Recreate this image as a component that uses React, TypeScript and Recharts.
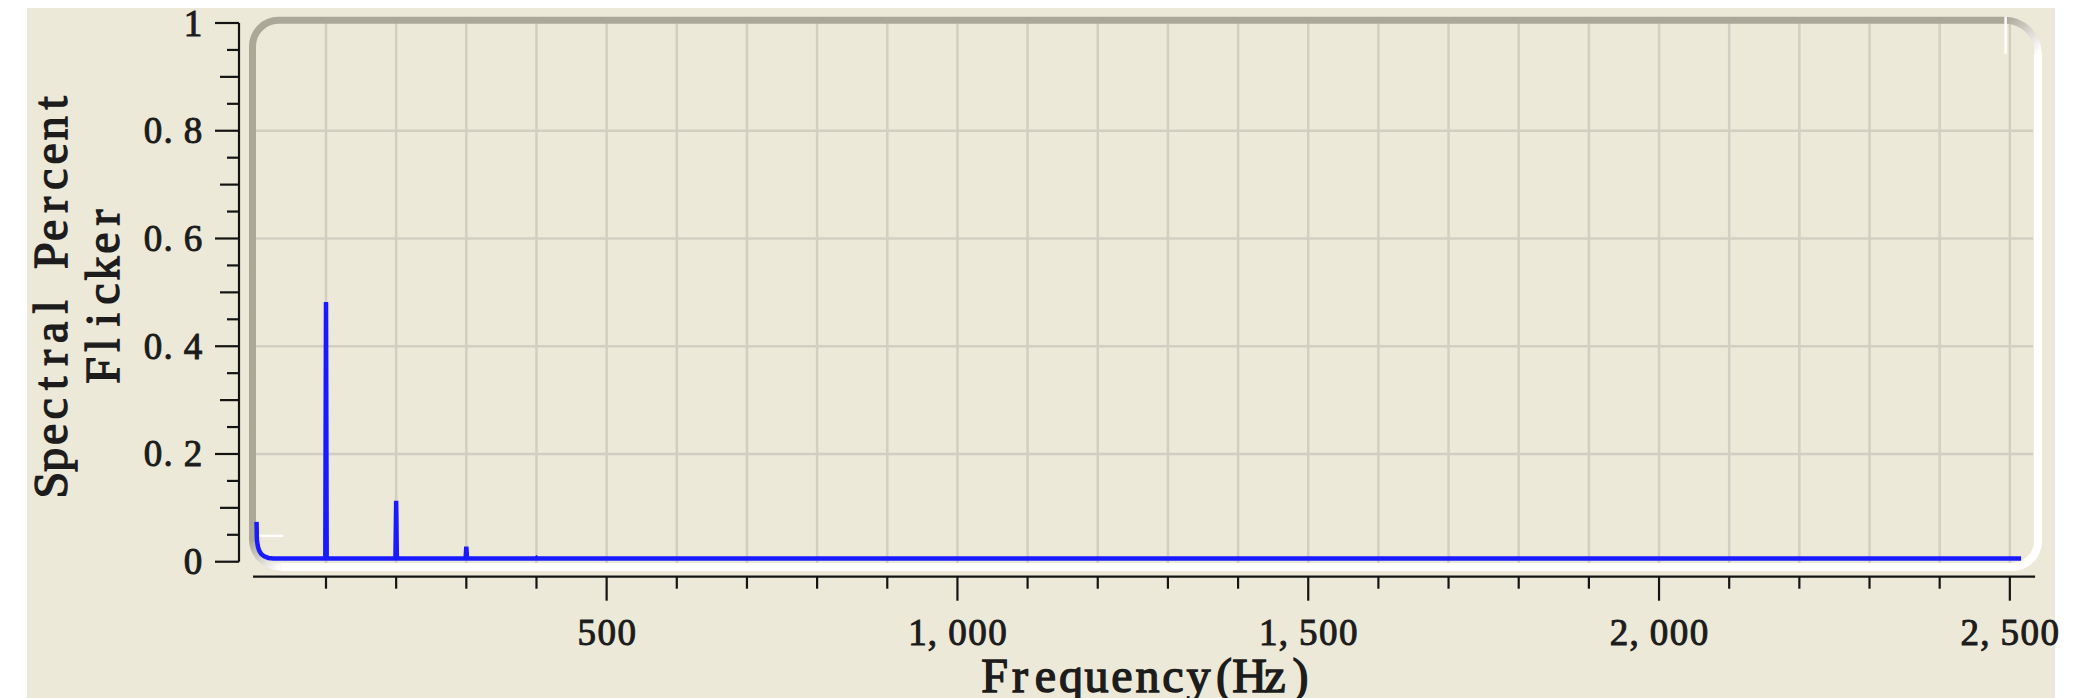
import React from 'react';
import { LineChart, Line, XAxis, YAxis, ReferenceLine, ReferenceArea } from 'recharts';

// ---- data ----
const frequencyHz = [
  1, 1.5, 3, 5, 8, 12, 18, 25, 40, 60, 80, 99, 100, 101, 130, 160, 199, 200, 201, 240, 270, 299, 300, 301,
  350, 399, 400, 401, 450, 500, 600, 700, 800, 900, 1000, 1100, 1200, 1300, 1400, 1500, 1600, 1700, 1800, 1900,
  2000, 2100, 2200, 2300, 2400, 2500, 2516,
];
const spectralPercentFlicker = [
  0.074, 0.04, 0.028, 0.02, 0.014, 0.01, 0.007, 0.006, 0.006, 0.006, 0.006, 0.006, 0.482, 0.006, 0.006, 0.006,
  0.006, 0.113, 0.006, 0.006, 0.006, 0.006, 0.028, 0.006, 0.006, 0.006, 0.007, 0.006, 0.006, 0.006, 0.006,
  0.006, 0.006, 0.006, 0.006, 0.006, 0.006, 0.006, 0.006, 0.006, 0.006, 0.006, 0.006, 0.006, 0.006, 0.006,
  0.006, 0.006, 0.006, 0.006, 0.006,
];

const xTickValues = [
  100, 200, 300, 400, 500, 600, 700, 800, 900, 1000, 1100, 1200, 1300, 1400, 1500, 1600, 1700, 1800, 1900,
  2000, 2100, 2200, 2300, 2400, 2500,
];
const xLabelValues = [500, 1000, 1500, 2000, 2500];
const xLabelTexts = ['500', '1,000', '1,500', '2,000', '2,500'];

const yTickValues = [
  0, 0.05, 0.1, 0.15, 0.2, 0.25, 0.3, 0.35, 0.4, 0.45, 0.5, 0.55, 0.6, 0.65, 0.7, 0.75, 0.8, 0.85, 0.9, 0.95, 1,
];
const yLabelValues = [0, 0.2, 0.4, 0.6, 0.8, 1];
const yLabelTexts = ['0', '0.2', '0.4', '0.6', '0.8', '1'];

const xGridValues = xTickValues;
const yGridValues = [0.2, 0.4, 0.6, 0.8];

const xAxisTitle = 'Frequency(Hz)';
const yAxisTitleLines = ['Spectral Percent', 'Flicker'];

// ---- styling constants ----
const X_MIN = -24;
const X_MAX = 2543;
const Y_MIN = -0.0278;
const Y_MAX = 1;
const SERIF = '"Liberation Serif", "Times New Roman", serif';
const INK = '#1c1c1c';
const GRID = '#d2cfc2';
const SHADOW = '#aca899';
const SERIES = '#1a1aff';

// approximate glyph advance widths (em) of Liberation Serif, used to centre each glyph in a fixed-width cell
const GLYPH_W: Record<string, number> = {
  ',': 0.25, '.': 0.25, ' ': 0.25, F: 0.556, r: 0.333, e: 0.444, q: 0.5, u: 0.5, n: 0.5, c: 0.444, y: 0.5,
  '(': 0.333, ')': 0.333, H: 0.722, z: 0.444, S: 0.556, p: 0.5, t: 0.278, a: 0.444, l: 0.278, P: 0.556,
  i: 0.278, k: 0.5,
};

function cellXs(str: string, cell: number, fontSize: number, anchor: 'start' | 'middle' | 'end'): string {
  const chars = Array.from(str);
  const n = chars.length;
  const start = anchor === 'middle' ? (-n * cell) / 2 : anchor === 'end' ? -n * cell : 0;
  return chars
    .map((ch, i) => {
      const w = (GLYPH_W[ch] ?? 0.5) * fontSize;
      const off = ch === '.' || ch === ',' ? 0.02 * cell : (cell - w) / 2;
      return (start + i * cell + off).toFixed(2);
    })
    .join(' ');
}

function CellText(props: {
  text: string;
  tx: number;
  ty: number;
  cell: number;
  fontSize: number;
  anchor: 'start' | 'middle' | 'end';
  sx?: number;
  rotate?: number;
  weight?: number;
}) {
  const { text, tx, ty, cell, fontSize, anchor, sx = 1, rotate = 0, weight = 0.5 } = props;
  const localCell = cell / sx;
  return (
    <text
      transform={`translate(${tx},${ty}) rotate(${rotate}) scale(${sx},1)`}
      x={cellXs(text, localCell, fontSize, anchor) as any}
      y={0}
      fontFamily={SERIF}
      fontSize={fontSize}
      fill={INK}
      stroke={INK}
      strokeWidth={weight}
    >
      {text}
    </text>
  );
}

function XTick(props: any) {
  const { x, y, payload } = props;
  const v = payload.value;
  const i = xLabelValues.indexOf(v);
  const major = i >= 0;
  return (
    <g>
      <line x1={x} y1={y} x2={x} y2={y + (major ? 24 : 12)} stroke="#141414" strokeWidth={2.2} />
      {major && <CellText text={xLabelTexts[i]} tx={x} ty={y + 68} cell={20} fontSize={37} anchor="middle" weight={1} />}
    </g>
  );
}

function YTick(props: any) {
  const { x, y, payload } = props;
  const v = payload.value;
  const idx = Math.round(v / 0.05);
  const len = idx % 4 === 0 ? 24 : idx % 2 === 0 ? 19 : 12;
  const li = yLabelValues.findIndex((l) => Math.abs(l - v) < 1e-9);
  return (
    <g>
      <line x1={x} y1={y} x2={x - len} y2={y} stroke="#141414" strokeWidth={2.2} />
      {li >= 0 && (
        <CellText text={yLabelTexts[li]} tx={x - 36} ty={y + 12.5} cell={20} fontSize={37} anchor="end" weight={1} />
      )}
    </g>
  );
}

function Frame(props: any) {
  const { x, y, width, height } = props;
  const Lx = x + 13.5;
  const Ty = y - 2.7;
  const Rx = x + width - 2;
  const By = y + height - 9.7;
  const rTL = 26;
  const rTR = 33;
  const rBR = 26;
  const rBL = 28;
  const sw = 7;
  return (
    <g>
      <defs>
        <linearGradient id="trGrad" gradientUnits="userSpaceOnUse" x1={Rx - rTR} y1={Ty} x2={Rx} y2={Ty + rTR}>
          <stop offset="0" stopColor={SHADOW} />
          <stop offset="1" stopColor="#ffffff" />
        </linearGradient>
        <linearGradient id="blGrad" gradientUnits="userSpaceOnUse" x1={Lx} y1={By - rBL} x2={Lx + rBL} y2={By}>
          <stop offset="0" stopColor={SHADOW} />
          <stop offset="1" stopColor="#ffffff" />
        </linearGradient>
      </defs>
      <path
        d={`M ${Rx} ${Ty + rTR} L ${Rx} ${By - rBR} A ${rBR} ${rBR} 0 0 1 ${Rx - rBR} ${By} L ${Lx + rBL} ${By}`}
        fill="none"
        stroke="#ffffff"
        strokeWidth={sw + 1}
      />
      <path
        d={`M ${Lx} ${By - rBL} L ${Lx} ${Ty + rTL} A ${rTL} ${rTL} 0 0 1 ${Lx + rTL} ${Ty} L ${Rx - rTR} ${Ty}`}
        fill="none"
        stroke={SHADOW}
        strokeWidth={sw}
      />
      <path d={`M ${Rx - rTR} ${Ty} A ${rTR} ${rTR} 0 0 1 ${Rx} ${Ty + rTR}`} fill="none" stroke="url(#trGrad)" strokeWidth={sw} />
      <path d={`M ${Lx + rBL} ${By} A ${rBL} ${rBL} 0 0 1 ${Lx} ${By - rBL}`} fill="none" stroke="url(#blGrad)" strokeWidth={sw} />
    </g>
  );
}

function XTitle(props: any) {
  const vb = props.viewBox || { x: 239, y: 576.7, width: 1801 };
  const cx = vb.x + vb.width / 2 + 8;
  const by = vb.y + 115;
  return <CellText text={xAxisTitle} tx={cx} ty={by} cell={25.5} fontSize={48} anchor="middle" sx={1} weight={1.4} />;
}

function YTitle() {
  const cy = 294;
  const baselines = [67, 119];
  return (
    <g>
      {yAxisTitleLines.map((t, i) => (
        <CellText
          key={t}
          text={t}
          tx={baselines[i]}
          ty={cy}
          cell={25.5}
          fontSize={48}
          anchor="middle"
          sx={1}
          rotate={-90}
          weight={1.4}
        />
      ))}
    </g>
  );
}

export default function App() {
  const data = frequencyHz.map((f, i) => ({ f, v: spectralPercentFlicker[i] }));
  return (
    <div style={{ position: 'fixed', left: 0, top: 0, width: 2074, height: 698, background: '#ffffff', overflow: 'hidden' }}>
      <div style={{ position: 'absolute', left: 27, top: 8, width: 2028, height: 690, background: '#ECE9D8' }} />
      <div style={{ position: 'absolute', left: 0, top: 0 }}>
        <LineChart width={2074} height={698} data={data} margin={{ top: 23, right: 34, bottom: 41.3, left: 139 }}>
          <XAxis
            dataKey="f"
            type="number"
            domain={[X_MIN, X_MAX]}
            allowDataOverflow
            ticks={xTickValues}
            interval={0}
            axisLine={false}
            tickLine={false}
            tickSize={0}
            tickMargin={0}
            height={80}
            tick={<XTick />}
            label={{ content: (p: any) => <XTitle {...p} /> }}
          />
          <YAxis
            type="number"
            domain={[Y_MIN, Y_MAX]}
            allowDataOverflow
            ticks={yTickValues}
            interval={0}
            axisLine={false}
            tickLine={false}
            tickSize={0}
            tickMargin={0}
            width={100}
            tick={<YTick />}
            label={{ content: () => <YTitle /> }}
          />
          {xGridValues.map((v) => (
            <ReferenceLine
              key={'gx' + v}
              segment={[{ x: v, y: -0.005 }, { x: v, y: 1 }]}
              stroke={GRID}
              strokeWidth={2.5}
              ifOverflow="visible"
              zIndex={-100}
            />
          ))}
          {yGridValues.map((v) => (
            <ReferenceLine
              key={'gy' + v}
              segment={[{ x: -5, y: v }, { x: 2533, y: v }]}
              stroke={GRID}
              strokeWidth={2.5}
              ifOverflow="visible"
              zIndex={-100}
            />
          ))}
          <ReferenceArea
            x1={X_MIN}
            x2={X_MAX}
            y1={Y_MIN}
            y2={Y_MAX}
            ifOverflow="visible"
            shape={(p: any) => <Frame {...p} />}
            zIndex={-50}
          />
          <ReferenceLine
            segment={[{ x: 0, y: 0.048 }, { x: 39, y: 0.048 }]}
            stroke="#ffffff"
            strokeWidth={2.5}
            ifOverflow="visible"
            zIndex={-40}
          />
          <ReferenceLine
            segment={[{ x: 2494, y: 1.012 }, { x: 2494, y: 0.943 }]}
            stroke="#ffffff"
            strokeWidth={2.5}
            ifOverflow="visible"
            zIndex={-40}
          />
          <Line
            dataKey="v"
            type="linear"
            stroke={SERIES}
            strokeWidth={4.5}
            dot={false}
            activeDot={false}
            isAnimationActive={false}
          />
          <ReferenceLine
            segment={[{ x: X_MIN, y: 0 }, { x: X_MIN, y: 1 }]}
            stroke="#141414"
            strokeWidth={2.2}
            ifOverflow="visible"
            zIndex={500}
          />
          <ReferenceLine
            segment={[{ x: -4, y: Y_MIN }, { x: 2536, y: Y_MIN }]}
            stroke="#141414"
            strokeWidth={2.2}
            ifOverflow="visible"
            zIndex={500}
          />
        </LineChart>
      </div>
    </div>
  );
}
